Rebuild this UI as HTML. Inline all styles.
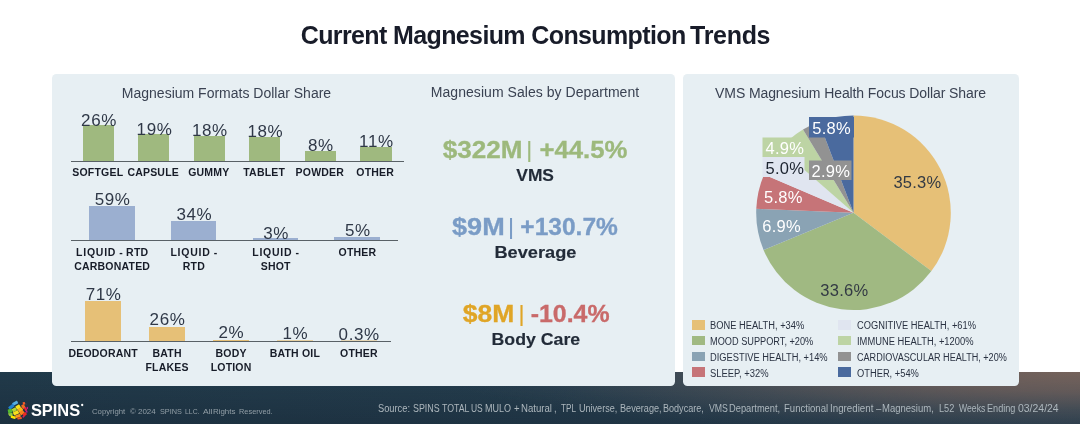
<!DOCTYPE html>
<html><head><meta charset="utf-8"><title>Current Magnesium Consumption Trends</title>
<style>
*{margin:0;padding:0;box-sizing:border-box}
html,body{width:1080px;height:424px;overflow:hidden;background:#fff}
body{font-family:"Liberation Sans",sans-serif;color:#1d2736;position:relative}
.abs{position:absolute}
.footer{position:absolute;left:0;top:371.5px;width:1080px;height:52.5px;background:radial-gradient(ellipse 640px 64px at 100% 0%,rgba(116,98,91,1) 0%,rgba(112,95,90,0.8) 30%,rgba(100,92,92,0.42) 60%,rgba(90,90,95,0.12) 85%,rgba(90,90,95,0) 100%),linear-gradient(to bottom,rgba(15,25,40,0) 0%,rgba(15,25,40,0.3) 100%),linear-gradient(to right,#213a4a 0%,#253e4e 50%,#30495a 100%)}
.panel{position:absolute;background:#e7eff3;border-radius:4.5px}
h1{position:absolute;left:0;width:1071px;top:19.6px;text-align:center;font-size:25px;font-weight:bold;line-height:30px;color:#181c29;letter-spacing:-0.62px;white-space:nowrap}
.pt{position:absolute;font-size:14px;line-height:18px;color:#3a4252;white-space:nowrap;text-align:center}
.bar{position:absolute}
.axis{position:absolute;height:1px;background:#596166}
.val{position:absolute;font-size:17px;line-height:16px;color:#2f3847;letter-spacing:0.6px;text-align:center;white-space:nowrap;width:80px}
.cat{position:absolute;font-size:10.5px;line-height:14px;font-weight:bold;color:#171c28;text-align:center;white-space:nowrap;width:100px;letter-spacing:0.2px}
.lq{letter-spacing:0.75px}
.lg{position:absolute;font-size:10px;line-height:12px;color:#2a3242;white-space:nowrap;transform:scaleX(0.924);transform-origin:0 0}
.sw{position:absolute;width:13.2px;height:9.5px}
.ft{position:absolute;color:#adb7bd;white-space:nowrap}
.src{font-size:10px;line-height:12px;width:1080px;height:12px}
.src span{position:absolute;top:0;white-space:pre;transform-origin:0 0}
</style></head><body>
<div class="footer"></div>
<h1>Current Magnesium Consumption<span style="margin-left:-2.2px;letter-spacing:-0.3px"> Trends</span></h1>
<div class="panel" style="left:51.8px;top:73.6px;width:623.3px;height:312.1px"></div>
<div class="panel" style="left:682.8px;top:73.6px;width:336.4px;height:312.1px"></div>

<div class="pt" style="left:52px;width:349px;top:84.3px">Magnesium Formats Dollar Share</div>
<div class="pt" style="left:405px;width:260px;top:82.9px;letter-spacing:0.05px">Magnesium Sales by Department</div>
<div class="pt" style="left:683px;width:335px;top:84.3px;letter-spacing:-0.1px">VMS Magnesium Health Focus Dollar Share</div>

<div class="axis" style="left:70.5px;top:161px;width:333.0px"></div>
<div class="bar" style="left:82.8px;top:125px;width:31.0px;height:36px;background:#9fb97f"></div>
<div class="val" style="left:59.0px;top:112.7px">26%</div>
<div class="cat" style="left:47.8px;top:165.2px">SOFTGEL</div>
<div class="bar" style="left:138.2px;top:134px;width:31.0px;height:27px;background:#9fb97f"></div>
<div class="val" style="left:114.5px;top:121.7px">19%</div>
<div class="cat" style="left:103.2px;top:165.2px">CAPSULE</div>
<div class="bar" style="left:193.8px;top:136px;width:31.0px;height:25px;background:#9fb97f"></div>
<div class="val" style="left:169.9px;top:122.7px">18%</div>
<div class="cat" style="left:158.8px;top:165.2px">GUMMY</div>
<div class="bar" style="left:249.2px;top:137px;width:31.0px;height:24px;background:#9fb97f"></div>
<div class="val" style="left:225.4px;top:124.1px">18%</div>
<div class="cat" style="left:214.2px;top:165.2px">TABLET</div>
<div class="bar" style="left:304.8px;top:151px;width:31.0px;height:10px;background:#9fb97f"></div>
<div class="val" style="left:280.9px;top:137.6px">8%</div>
<div class="cat" style="left:269.8px;top:165.2px">POWDER</div>
<div class="bar" style="left:360.2px;top:147px;width:31.8px;height:14px;background:#9fb97f"></div>
<div class="val" style="left:336.4px;top:134.3px">11%</div>
<div class="cat" style="left:325.2px;top:165.2px">OTHER</div>
<div class="axis" style="left:71.0px;top:240px;width:327.0px"></div>
<div class="bar" style="left:89.0px;top:206px;width:45.7px;height:34px;background:#9bafd0"></div>
<div class="val" style="left:72.6px;top:192.0px">59%</div>
<div class="cat" style="left:62.2px;top:245.4px"><span class="lq">LIQUID</span> - RTD<br>CARBONATED</div>
<div class="bar" style="left:170.8px;top:221px;width:45.7px;height:19px;background:#9bafd0"></div>
<div class="val" style="left:154.3px;top:207.3px">34%</div>
<div class="cat" style="left:143.9px;top:245.4px"><span class="lq">LIQUID</span> -<br>RTD</div>
<div class="bar" style="left:252.5px;top:238px;width:45.7px;height:2px;background:#9bafd0"></div>
<div class="val" style="left:236.1px;top:225.7px">3%</div>
<div class="cat" style="left:225.7px;top:245.4px"><span class="lq">LIQUID</span> -<br>SHOT</div>
<div class="bar" style="left:334.3px;top:237px;width:45.7px;height:3px;background:#9bafd0"></div>
<div class="val" style="left:317.8px;top:223.0px">5%</div>
<div class="cat" style="left:307.4px;top:245.4px">OTHER</div>
<div class="axis" style="left:71.0px;top:341px;width:319.5px"></div>
<div class="bar" style="left:85.0px;top:301px;width:36.0px;height:40px;background:#e6c077"></div>
<div class="val" style="left:63.7px;top:287.2px">71%</div>
<div class="cat" style="left:53.2px;top:346.0px">DEODORANT</div>
<div class="bar" style="left:148.8px;top:327px;width:36.0px;height:14px;background:#e6c077"></div>
<div class="val" style="left:127.5px;top:312.2px">26%</div>
<div class="cat" style="left:117.1px;top:346.0px">BATH<br>FLAKES</div>
<div class="bar" style="left:212.8px;top:340px;width:36.0px;height:1px;background:#e6c077"></div>
<div class="val" style="left:191.4px;top:325.0px">2%</div>
<div class="cat" style="left:181.1px;top:346.0px">BODY<br>LOTION</div>
<div class="bar" style="left:276.6px;top:340px;width:36.0px;height:1px;background:#e6c077;opacity:0.65"></div>
<div class="val" style="left:255.3px;top:326.1px">1%</div>
<div class="cat" style="left:244.9px;top:346.0px">BATH OIL</div>
<div class="bar" style="left:340.6px;top:340px;width:36.0px;height:1px;background:#e6c077;opacity:0.50"></div>
<div class="val" style="left:319.2px;top:326.9px">0.3%</div>
<div class="cat" style="left:308.9px;top:346.0px">OTHER</div>
<svg class="abs" style="left:405px;top:125px" width="270" height="235" viewBox="405 125 270 235" font-family="Liberation Sans, sans-serif" xml:space="preserve">
<text x="442.69" y="158" font-size="23.3" font-weight="bold" fill="#9db97c" stroke="#9db97c" stroke-width="0.3" textLength="79.80" lengthAdjust="spacingAndGlyphs">$322M</text>
<text x="526.99" y="157.2" font-size="21.5" font-weight="bold" fill="#9db97c" textLength="4.52" lengthAdjust="spacingAndGlyphs">|</text>
<text x="539.42" y="158" font-size="23.3" font-weight="bold" fill="#9db97c" stroke="#9db97c" stroke-width="0.3" textLength="88.06" lengthAdjust="spacingAndGlyphs">+44.5%</text>
<text x="516.29" y="181" font-size="17" font-weight="bold" fill="#222b38" stroke="#222b38" stroke-width="0.15" textLength="37.68" lengthAdjust="spacingAndGlyphs">VMS</text>
<text x="452.08" y="235" font-size="23.3" font-weight="bold" fill="#7a9cc6" stroke="#7a9cc6" stroke-width="0.3" textLength="52.64" lengthAdjust="spacingAndGlyphs">$9M</text>
<text x="508.69" y="234.2" font-size="21.5" font-weight="bold" fill="#7a9cc6" textLength="4.52" lengthAdjust="spacingAndGlyphs">|</text>
<text x="520.37" y="235" font-size="23.3" font-weight="bold" fill="#7a9cc6" stroke="#7a9cc6" stroke-width="0.3" textLength="97.51" lengthAdjust="spacingAndGlyphs">+130.7%</text>
<text x="494.49" y="258" font-size="17" font-weight="bold" fill="#222b38" stroke="#222b38" stroke-width="0.15" textLength="81.93" lengthAdjust="spacingAndGlyphs">Beverage</text>
<text x="462.69" y="322" font-size="23.3" font-weight="bold" fill="#e0a526" stroke="#e0a526" stroke-width="0.3" textLength="51.50" lengthAdjust="spacingAndGlyphs">$8M</text>
<text x="519.29" y="321.2" font-size="21.5" font-weight="bold" fill="#e0a526" textLength="4.52" lengthAdjust="spacingAndGlyphs">|</text>
<text x="530.68" y="322" font-size="23.3" font-weight="bold" fill="#c96a6a" stroke="#c96a6a" stroke-width="0.3" textLength="78.86" lengthAdjust="spacingAndGlyphs">-10.4%</text>
<text x="491.52" y="345" font-size="17" font-weight="bold" fill="#222b38" stroke="#222b38" stroke-width="0.15" textLength="88.66" lengthAdjust="spacingAndGlyphs">Body Care</text>
</svg>

<svg class="abs" style="left:683px;top:74px" width="337" height="311" viewBox="683 74 337 311">
<path d="M853.5 212.8L853.50 115.50A97.3 97.3 0 0 1 931.38 271.12Z" fill="#e6c077"/>
<path d="M853.5 212.8L931.38 271.12A97.3 97.3 0 0 1 763.58 249.96Z" fill="#a0b982"/>
<path d="M853.5 212.8L763.58 249.96A97.3 97.3 0 0 1 756.28 208.84Z" fill="#8aa3b4"/>
<path d="M853.5 212.8L756.28 208.84A97.3 97.3 0 0 1 764.05 174.51Z" fill="#c67478"/>
<path d="M853.5 212.8L764.05 174.51A97.3 97.3 0 0 1 780.22 148.79Z" fill="#e0e5f0"/>
<path d="M853.5 212.8L780.22 148.79A97.3 97.3 0 0 1 803.01 129.62Z" fill="#bdd4a4"/>
<path d="M853.5 212.8L803.01 129.62A97.3 97.3 0 0 1 818.89 121.86Z" fill="#929292"/>
<path d="M853.5 212.8L818.89 121.86A97.3 97.3 0 0 1 853.50 115.50Z" fill="#4a6a9e"/>
<rect x="809" y="117" width="45" height="20.5" fill="#4a6a9e"/>
<rect x="762.5" y="137.5" width="42" height="19.5" fill="#bdd4a4"/>
<rect x="762.5" y="157" width="42" height="20" fill="#e0e5f0"/>
<rect x="809" y="160.5" width="42.5" height="19.5" fill="#929292"/>
<text x="917.42" y="187.7" text-anchor="middle" fill="#333a44" font-size="16.5" letter-spacing="0.25" font-family="Liberation Sans, sans-serif">35.3%</text>
<text x="844.32" y="295.5" text-anchor="middle" fill="#333a44" font-size="16.5" letter-spacing="0.25" font-family="Liberation Sans, sans-serif">33.6%</text>
<text x="781.62" y="231.8" text-anchor="middle" fill="#fff" font-size="16.5" letter-spacing="0.25" font-family="Liberation Sans, sans-serif">6.9%</text>
<text x="783.42" y="203.1" text-anchor="middle" fill="#fff" font-size="16.5" letter-spacing="0.25" font-family="Liberation Sans, sans-serif">5.8%</text>
<text x="784.82" y="173.8" text-anchor="middle" fill="#1d2430" font-size="16.5" letter-spacing="0.25" font-family="Liberation Sans, sans-serif">5.0%</text>
<text x="784.82" y="154.1" text-anchor="middle" fill="#fff" font-size="16.5" letter-spacing="0.25" font-family="Liberation Sans, sans-serif">4.9%</text>
<text x="830.92" y="176.5" text-anchor="middle" fill="#fff" font-size="16.5" letter-spacing="0.25" font-family="Liberation Sans, sans-serif">2.9%</text>
<text x="831.52" y="134.0" text-anchor="middle" fill="#fff" font-size="16.5" letter-spacing="0.25" font-family="Liberation Sans, sans-serif">5.8%</text>
</svg>
<div class="sw" style="left:691.6px;top:320.2px;background:#e6c077"></div><div class="lg" style="left:710.3px;top:320.1px;transform:scaleX(0.931)">BONE HEALTH, +34%</div>
<div class="sw" style="left:837.8px;top:320.2px;background:#e0e5f0"></div><div class="lg" style="left:856.6px;top:320.1px;transform:scaleX(0.93)">COGNITIVE HEALTH, +61%</div>
<div class="sw" style="left:691.6px;top:335.9px;background:#a0b982"></div><div class="lg" style="left:710.3px;top:336.3px;transform:scaleX(0.919)">MOOD SUPPORT, +20%</div>
<div class="sw" style="left:837.8px;top:335.9px;background:#bdd4a4"></div><div class="lg" style="left:856.6px;top:336.3px;transform:scaleX(0.935)">IMMUNE HEALTH, +1200%</div>
<div class="sw" style="left:691.6px;top:351.6px;background:#8aa3b4"></div><div class="lg" style="left:710.3px;top:352.0px;transform:scaleX(0.932)">DIGESTIVE HEALTH, +14%</div>
<div class="sw" style="left:837.8px;top:351.6px;background:#929292"></div><div class="lg" style="left:856.6px;top:352.0px;transform:scaleX(0.908)">CARDIOVASCULAR HEALTH, +20%</div>
<div class="sw" style="left:691.6px;top:367.3px;background:#c67478"></div><div class="lg" style="left:710.3px;top:367.7px;transform:scaleX(0.94)">SLEEP, +32%</div>
<div class="sw" style="left:837.8px;top:367.3px;background:#4a6a9e"></div><div class="lg" style="left:856.6px;top:367.7px;transform:scaleX(0.932)">OTHER, +54%</div>
<svg class="abs" style="left:0;top:394px" width="90" height="30" viewBox="0 394 90 30">
<defs><clipPath id="gc"><circle cx="18" cy="410" r="10.6"/></clipPath><filter id="gb" x="-10%" y="-10%" width="120%" height="120%"><feGaussianBlur stdDeviation="0.3"/></filter></defs>
<g clip-path="url(#gc)" filter="url(#gb)">
<rect x="12.33" y="401.69" width="5.64" height="3.06" rx="0.6" fill="#56ace0" transform="rotate(-28 15.15 403.22)"/>
<rect x="8.35" y="405.12" width="6.00" height="3.19" rx="0.6" fill="#2281d0" transform="rotate(-38 11.35 406.71)"/>
<rect x="7.86" y="409.10" width="4.29" height="3.80" rx="0.6" fill="#52ba30" transform="rotate(-15 10.00 411.00)"/>
<rect x="7.98" y="413.02" width="4.66" height="3.06" rx="0.6" fill="#93c83d" transform="rotate(-5 10.31 414.56)"/>
<rect x="12.15" y="408.06" width="4.29" height="3.43" rx="0.6" fill="#b4d334" transform="rotate(-28 14.29 409.78)"/>
<rect x="15.83" y="405.18" width="4.53" height="3.80" rx="0.6" fill="#f6e11b" transform="rotate(-30 18.09 407.08)"/>
<rect x="13.19" y="411.13" width="5.64" height="3.43" rx="0.6" fill="#f9df1a" transform="rotate(-25 16.01 412.84)"/>
<rect x="10.62" y="416.03" width="5.15" height="2.45" rx="0.6" fill="#fbe300" transform="rotate(15 13.19 417.25)"/>
<rect x="18.15" y="407.94" width="4.53" height="3.80" rx="0.6" fill="#fbb317" transform="rotate(-35 20.42 409.84)"/>
<rect x="19.69" y="410.94" width="4.41" height="3.55" rx="0.6" fill="#f6821f" transform="rotate(-38 21.89 412.72)"/>
<rect x="15.34" y="414.56" width="5.27" height="2.94" rx="0.6" fill="#f7941d" transform="rotate(-20 17.97 416.03)"/>
<rect x="21.83" y="404.51" width="3.06" height="4.17" rx="0.6" fill="#f26a21" transform="rotate(-30 23.36 406.59)"/>
<rect x="22.81" y="402.00" width="2.33" height="2.70" rx="0.6" fill="#f15a29" transform="rotate(-20 23.98 403.34)"/>
<rect x="24.47" y="407.20" width="2.21" height="3.68" rx="0.6" fill="#ec1c45" transform="rotate(-20 25.57 409.04)"/>
<rect x="22.81" y="412.72" width="3.80" height="2.94" rx="0.6" fill="#ee2a24" transform="rotate(-40 24.71 414.19)"/>
<rect x="17.36" y="417.25" width="4.53" height="1.96" rx="0.6" fill="#f15323" transform="rotate(-10 19.62 418.23)"/>
<rect x="26.55" y="402.18" width="1.23" height="2.33" rx="0.6" fill="#a8228f" transform="rotate(0 27.16 403.34)"/>
<rect x="26.92" y="406.65" width="1.10" height="2.57" rx="0.6" fill="#c2188c" transform="rotate(0 27.47 407.94)"/>
<rect x="25.81" y="410.27" width="1.59" height="2.45" rx="0.6" fill="#c4198b" transform="rotate(-20 26.61 411.49)"/>
<rect x="22.38" y="415.66" width="2.21" height="1.72" rx="0.6" fill="#d91c5c" transform="rotate(-40 23.49 416.52)"/>
</g>
<text x="30.9" y="416.2" font-family="Liberation Sans, sans-serif" font-weight="bold" font-size="17" fill="#fff" textLength="49.3" lengthAdjust="spacingAndGlyphs">SPINS</text>
<circle cx="82.2" cy="405" r="1.15" fill="#fff"/>
</svg>
<div class="ft src" style="left:0;top:403.1px"><span style="left:378.33px;transform:scaleX(0.928)">Source: </span><span style="left:412.64px;transform:scaleX(0.888)">SPINS </span><span style="left:441.72px;transform:scaleX(0.877)">TOTAL </span><span style="left:471.11px;transform:scaleX(0.846)">US </span><span style="left:485.18px;transform:scaleX(0.901)">MULO </span><span style="left:513.92px;transform:scaleX(0.950)">+ </span><span style="left:521.33px;transform:scaleX(0.962)">Natural </span><span style="left:553.84px;transform:scaleX(0.950)">, </span><span style="left:560.84px;transform:scaleX(0.820)">TPL </span><span style="left:578.57px;transform:scaleX(0.906)">Universe, </span><span style="left:619.57px;transform:scaleX(0.913)">Beverage, </span><span style="left:663.38px;transform:scaleX(0.905)">Bodycare, </span><span style="left:708.50px;transform:scaleX(0.874)">VMS </span><span style="left:729.16px;transform:scaleX(0.929)">Department, </span><span style="left:783.54px;transform:scaleX(0.955)">Functional </span><span style="left:829.82px;transform:scaleX(0.975)">Ingredient </span><span style="left:876.30px;transform:scaleX(0.950)">– </span><span style="left:882.44px;transform:scaleX(0.951)">Magnesium, </span><span style="left:938.87px;transform:scaleX(0.918)">L52 </span><span style="left:958.50px;transform:scaleX(0.865)">Weeks </span><span style="left:986.87px;transform:scaleX(0.910)">Ending </span><span style="left:1017.79px;transform:scaleX(1.044)">03/24/24 </span></div>
<div class="ft src" style="left:0;top:405.9px;font-size:8px;color:#939fa7"><span style="left:91.61px;transform:scaleX(0.969)">Copyright </span><span style="left:129.92px;transform:scaleX(0.990)">© </span><span style="left:137.90px;transform:scaleX(0.994)">2024 </span><span style="left:159.71px;transform:scaleX(0.912)">SPINS </span><span style="left:185.05px;transform:scaleX(0.857)">LLC. </span><span style="left:202.60px;transform:scaleX(1.060)">All </span><span style="left:213.47px;transform:scaleX(0.988)">Rights </span><span style="left:239.41px;transform:scaleX(0.923)">Reserved. </span></div>
</body></html>
